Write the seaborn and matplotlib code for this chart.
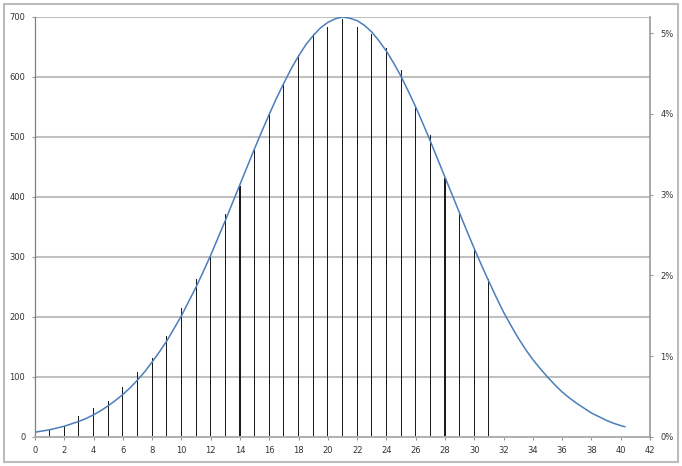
import matplotlib
matplotlib.use("Agg")
import matplotlib.pyplot as plt
from matplotlib.patches import Rectangle
from matplotlib.ticker import PercentFormatter
import seaborn as sns
import pandas as pd

# Histogram bars (count per value)
bin_x = list(range(1, 32))
counts = [12, 18, 35, 48, 60, 83, 108, 132, 168, 215, 263, 300, 372, 419, 479,
          539, 589, 637, 672, 683, 697, 683, 672, 648, 612, 550, 503, 432, 372, 311, 263]

# Fitted curve (every half unit)
curve_x = [0, 0.5, 1, 1.5, 2, 2.5, 3, 3.5, 4, 4.5, 5, 5.5, 6, 6.5, 7, 7.5, 8, 8.5, 9, 9.5,
           10, 10.5, 11, 11.5, 12, 12.5, 13, 13.5, 14, 14.5, 15, 15.5, 16, 16.5, 17, 17.5,
           18, 18.5, 19, 19.5, 20, 20.5, 21, 21.5, 22, 22.5, 23, 23.5, 24, 24.5, 25, 25.5,
           26, 26.5, 27, 27.5, 28, 28.5, 29, 29.5, 30, 30.5, 31, 31.5, 32, 32.5, 33, 33.5,
           34, 34.5, 35, 35.5, 36, 36.5, 37, 37.5, 38, 38.5, 39, 39.5, 40, 40.3]
curve_y = [8, 10, 12, 15, 18, 22, 26, 31, 37, 44, 52, 61, 71, 82, 95, 109, 125, 142, 160,
           181, 202, 226, 250, 276, 303, 332, 361, 391, 421, 451, 481, 510, 538, 565, 590,
           614, 635, 654, 669, 682, 691, 697, 700, 698, 694, 686, 675, 660, 643, 623, 601,
           576, 550, 522, 493, 463, 433, 403, 373, 343, 314, 286, 259, 233, 208, 186, 165,
           146, 129, 114, 100, 87, 75, 65, 56, 48, 40, 34, 28, 23, 19, 17]

x_ticks = list(range(0, 43, 2))
y_ticks = list(range(0, 701, 100))
pct_ticks = [0, 0.01, 0.02, 0.03, 0.04, 0.05]

sns.set_theme(style="white")
plt.rcParams['font.family'] = ['DejaVu Sans']

fig = plt.figure(figsize=(6.82, 4.66), dpi=100)
ax = fig.add_axes([35 / 682, 29 / 466, 615 / 682, 420 / 466])

bars = pd.DataFrame({"x": bin_x, "count": counts})
curve = pd.DataFrame({"x": curve_x, "y": curve_y})

ax.yaxis.grid(True, color="#c0c0c0", linewidth=1.5)
ax.set_axisbelow(True)

sns.barplot(data=bars, x="x", y="count", native_scale=True, width=0.075,
            color="#1a1a1a", saturation=1, edgecolor="none", errorbar=None, ax=ax)
sns.lineplot(data=curve, x="x", y="y", color="#4a7ebb", linewidth=1.1, ax=ax)

ax.set_xlim(0, 42)
ax.set_ylim(0, 700)
ax.set_xticks(x_ticks)
ax.set_xticklabels([str(v) for v in x_ticks])
ax.set_yticks(y_ticks)
ax.set_yticklabels([str(v) for v in y_ticks])
ax.set_xlabel("")
ax.set_ylabel("")

for s in ["top", "right"]:
    ax.spines[s].set_visible(False)
ax.spines["left"].set_color("#808080")
ax.spines["left"].set_linewidth(0.9)
ax.spines["bottom"].set_color("#b0b0b0")
ax.spines["bottom"].set_linewidth(1.4)

ax.tick_params(axis="both", which="major", direction="out", length=2.5, width=0.8,
               color="#999999", labelsize=6, labelcolor="#333333", pad=4)
ax.tick_params(axis="x", bottom=True, pad=4)
ax.tick_params(axis="y", left=True, pad=4.5)

ax2 = ax.twinx()
ax2.set_ylim(0, 0.052)
ax2.set_yticks(pct_ticks)
ax2.yaxis.set_major_formatter(PercentFormatter(1, decimals=0))
ax2.grid(False)
for s in ["top", "left", "bottom"]:
    ax2.spines[s].set_visible(False)
ax2.spines["right"].set_color("#999999")
ax2.spines["right"].set_linewidth(1.2)
ax2.tick_params(axis="y", right=True, direction="out", length=2.5, width=0.8,
                color="#999999", labelsize=6, labelcolor="#333333", pad=5)

fig.patches.append(Rectangle((4 / 682, 4 / 466), 674 / 682, 458 / 466,
                             transform=fig.transFigure, fill=False,
                             edgecolor="#bbbbbb", linewidth=1.5))

fig.savefig("out.png", dpi=100)
